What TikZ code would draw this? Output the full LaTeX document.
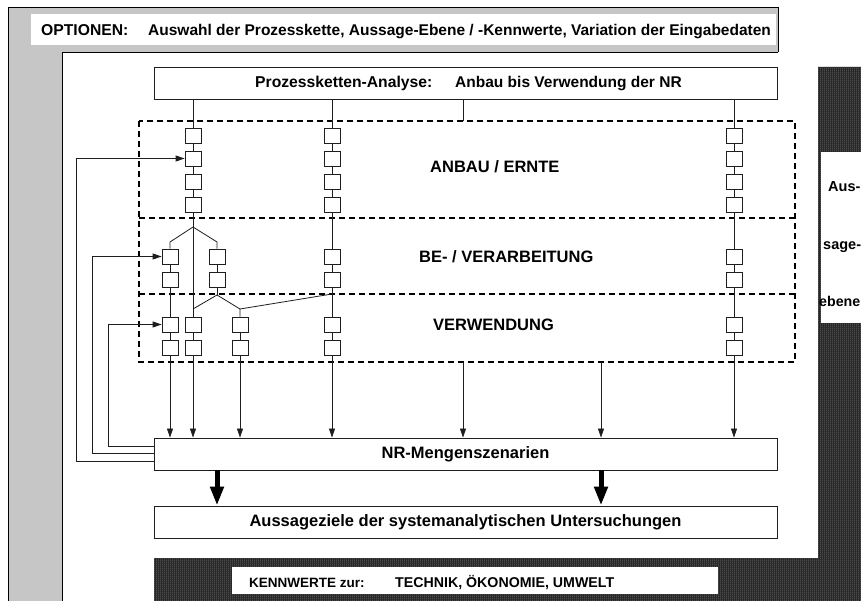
\documentclass[tikz,border=0pt]{standalone}
\usepackage{fontspec}
\setmainfont{Liberation Sans}
\usetikzlibrary{arrows.meta,patterns.meta}

\definecolor{stipple}{RGB}{198,198,198}
\definecolor{darkband}{RGB}{40,40,40}
\definecolor{stripe}{RGB}{95,95,95}
\definecolor{edge}{RGB}{30,30,30}

% fine vertical stripes for the dark frame
\pgfdeclarepattern{
  name=vstripes,
  bottom left={\pgfpointorigin},
  top right={\pgfpoint{2pt}{2pt}},
  tile size={\pgfpoint{2pt}{2pt}},
  code={\pgfpathrectangle{\pgfpointorigin}{\pgfpoint{0.9pt}{2pt}}\pgfusepath{fill}}
}

\newcommand{\fsz}[1]{\fontsize{#1}{#1}\selectfont\bfseries}

\begin{document}
\begin{tikzpicture}[x=1pt,y=-1pt,
  sq/.style={draw=edge, fill=white, minimum width=16pt, minimum height=15pt, inner sep=0pt, line width=0.8pt},
  wbox/.style={draw=edge, fill=white, line width=0.9pt, minimum width=623pt, minimum height=32pt, inner sep=0pt},
  link/.style={draw=edge, line width=0.8pt},
  arr/.style={link, -{Triangle[length=9pt,width=6pt]}},
  bigarrow/.style={draw=black, line width=5pt, -{Triangle[length=19pt,width=13pt]}},
  dashbox/.style={draw=black, line width=1.6pt, dash pattern=on 6pt off 4pt},
  label/.style={inner sep=0pt, anchor=base west}]

\useasboundingbox (0,0) rectangle (861,601);
\clip (0,0) rectangle (861,601);

% ---- frames ----
\fill[white] (0,0) rectangle (861,601);
\draw[fill=stipple, line width=0.8pt] (8,7) rectangle (778,640);
\fill[white] (62,52) rectangle (818,640);
\draw[line width=0.9pt] (62,640) -- (62,52) -- (778,52);
\path[fill=darkband] (154,640) -- (154,558) -- (818,558) -- (818,67) -- (900,67) -- (900,640) -- cycle;
\path[pattern=vstripes, pattern color=stripe] (154,640) -- (154,558) -- (818,558) -- (818,67) -- (900,67) -- (900,640) -- cycle;
\fill[white] (31,14) rectangle (776,45);
\fill[white] (821,152) rectangle (900,323);
\fill[white] (232,567) rectangle (718,594);

% ---- frame texts ----
\node[label, font=\fsz{15.7}] (opt) at (41,36) {OPTIONEN:};
\node[label, font=\fsz{15.5}] (optx) at (148,36) {Auswahl der Prozesskette, Aussage-Ebene / -Kennwerte, Variation der Eingabedaten};
\node[label, font=\fsz{13.5}] (kw) at (249,587) {KENNWERTE zur:};
\node[label, font=\fsz{14.2}] (kwx) at (395,587) {TECHNIK, ÖKONOMIE, UMWELT};
\node[label, font=\fsz{14.5}] (ae1) at (828,192) {Aus-};
\node[label, font=\fsz{14.5}] (ae2) at (823,250) {sage-};
\node[label, font=\fsz{14.2}] (ae3) at (819,306) {ebene};

% ---- main boxes ----
\node[wbox] (pk) at (465.5,83) {};
\node[label, font=\fsz{15.7}] (pkt) at (255,88) {Prozessketten-Analyse:};
\node[label, font=\fsz{15.5}] (pkx) at (455,88) {Anbau bis Verwendung der NR};
\node[wbox, font=\fsz{16.5}] (nr) at (465.5,454) {NR-Mengenszenarien};
\node[wbox, font=\fsz{16.5}] (az) at (465.5,522) {Aussageziele der systemanalytischen Untersuchungen};

% ---- stage areas ----
\draw[dashbox] (139,121) rectangle (795,362);
\draw[dashbox] (139,218) -- (795,218);
\draw[dashbox] (139,294) -- (795,294);
\node[label, font=\fsz{16.5}] (s1) at (430,173) {ANBAU / ERNTE};
\node[label, font=\fsz{16.5}] (s2) at (419,263) {BE- / VERARBEITUNG};
\node[label, font=\fsz{16.5}] (s3) at (433,330) {VERWENDUNG};

% ---- process steps ----
\foreach \i/\y in {1/135.5,2/158.5,3/181.5,4/204.5} \node[sq] (a\i) at (193,\y) {};
\foreach \i/\y in {1/256.5,2/279.5,3/324.5,4/347.5} \node[sq] (l\i) at (170,\y) {};
\node[sq] (r1) at (217,256.5) {};
\node[sq] (r2) at (217,279.5) {};
\node[sq] (m3) at (193,324.5) {};
\node[sq] (m4) at (193,347.5) {};
\node[sq] (t3) at (240,324.5) {};
\node[sq] (t4) at (240,347.5) {};
\foreach \c/\x in {b/332,c/734}
  \foreach \i/\y in {1/135.5,2/158.5,3/181.5,4/204.5,5/256.5,6/279.5,7/324.5,8/347.5}
    \node[sq] (\c\i) at (\x,\y) {};

\coordinate (bA) at (193,227);
\coordinate (bAl) at (170,242);
\coordinate (bAr) at (217,242);
\coordinate (jR) at (217,295);
\coordinate (jM) at (193,309);
\coordinate (jS) at (240,309);
\coordinate (jB) at (332,294);
\coordinate (stub) at (463,121);
\coordinate (d1) at (463,362);
\coordinate (d2) at (601,362);

% ---- chains ----
\draw[link] (a1) -- (a1 |- pk.south);
\draw[link] (b1) -- (b1 |- pk.south);
\draw[link] (c1) -- (c1 |- pk.south);
\draw[link] (stub) -- (stub |- pk.south);
\draw[link] (a1) -- (a2);
\draw[link] (a2) -- (a3);
\draw[link] (a3) -- (a4);
\draw[link] (a4) -- (bA);
\draw[link] (bA) -- (bAl) -- (l1);
\draw[link] (bA) -- (bAr) -- (r1);
\draw[link] (bA) -- (m3);
\draw[link] (l1) -- (l2);
\draw[link] (l2) -- (l3);
\draw[link] (l3) -- (l4);
\draw[link] (r1) -- (r2);
\draw[link] (r2) -- (jR);
\draw[link] (jR) -- (jM);
\draw[link] (jR) -- (jS) -- (t3);
\draw[link] (jS) -- (jB);
\draw[link] (m3) -- (m4);
\draw[link] (t3) -- (t4);
\foreach \c in {b,c} {
  \draw[link] (\c1) -- (\c2);
  \draw[link] (\c2) -- (\c3);
  \draw[link] (\c3) -- (\c4);
  \draw[link] (\c4) -- (\c5);
  \draw[link] (\c5) -- (\c6);
  \draw[link] (\c6) -- (\c7);
  \draw[link] (\c7) -- (\c8);
}

% ---- into the scenarios ----
\foreach \n in {l4,m4,t4,b8,c8,d1,d2}
  \draw[arr] (\n) -- (\n |- nr.north);

% ---- feedback loops ----
\coordinate (f1) at (nr.west |- 0,446);
\coordinate (f2) at (nr.west |- 0,453);
\coordinate (f3) at (nr.west |- 0,461);
\draw[arr] (f1) -- ++(-45,0) |- (l3);
\draw[arr] (f2) -- ++(-61,0) |- (l1);
\draw[arr] (f3) -- ++(-77,0) |- (a2);

% ---- results ----
\draw[bigarrow] (nr.south -| 217,0) -- (az.north -| 217,0);
\draw[bigarrow] (nr.south -| 601,0) -- (az.north -| 601,0);

\end{tikzpicture}
\end{document}
